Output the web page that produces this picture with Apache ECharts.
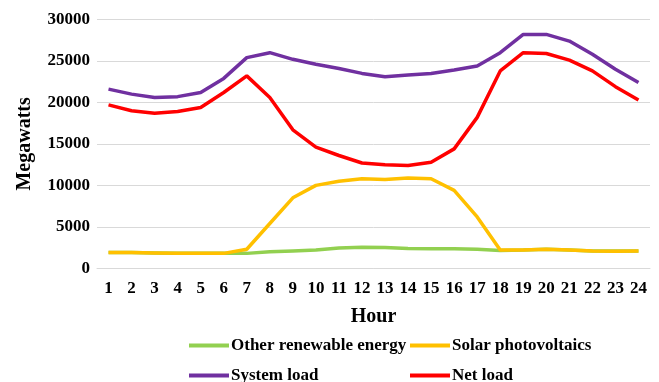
<!DOCTYPE html>
<html>
<head>
<meta charset="utf-8">
<script src="https://cdn.jsdelivr.net/npm/echarts@6/dist/echarts.min.js"></script>
<style>html,body{margin:0;padding:0;background:#fff}#c{width:659px;height:382px}</style>
</head>
<body>
<div id="c"></div>
<script>
const hours = ['1','2','3','4','5','6','7','8','9','10','11','12','13','14','15','16','17','18','19','20','21','22','23','24'];
const otherRenewable = [1900,1900,1850,1800,1800,1800,1800,2000,2100,2200,2450,2550,2500,2400,2350,2350,2300,2150,2200,2300,2200,2100,2100,2100];
const solarPV = [1900,1900,1850,1800,1800,1800,2300,5400,8500,10000,10500,10800,10700,10900,10800,9400,6200,2200,2200,2300,2200,2100,2050,2100];
const systemLoad = [21600,21000,20600,20700,21200,22900,25400,26000,25200,24600,24100,23500,23100,23300,23500,23900,24400,26000,28200,28200,27400,25800,24000,22400];
const netLoad = [19700,19000,18700,18900,19400,21200,23200,20600,16700,14600,13600,12700,12500,12400,12800,14400,18200,23800,26000,25900,25100,23800,21900,20300];
const yTicks = {min:0, max:30000, interval:5000};

const font = 'Liberation Serif';
const chart = echarts.init(document.getElementById('c'));
const mk = (name, data, color) => ({
  name, type:'line', data, symbol:'none', smooth:false,
  lineStyle:{color, width:3.5}, itemStyle:{color}
});
const legendBase = (name, left, top) => ({
  data:[name], left, top, itemWidth:40, itemHeight:4, itemGap:0, padding:0,
  icon:'rect',
  textStyle:{fontFamily:font, fontWeight:'bold', fontSize:17, color:'#000', padding:[0,0,0,-3]}
});
chart.setOption({
  animation:false,
  grid:{left:97, right:9, top:19.5, bottom:113.7},
  xAxis:{
    type:'category', data:hours, boundaryGap:true,
    name:'Hour', nameLocation:'middle', nameGap:39,
    nameTextStyle:{fontFamily:font, fontWeight:'bold', fontSize:20, color:'#000'},
    axisLine:{show:true, lineStyle:{color:'#d9d9d9', width:1}},
    axisTick:{show:false},
    axisLabel:{fontFamily:font, fontWeight:'bold', fontSize:17, color:'#000', margin:12, interval:0}
  },
  yAxis:{
    type:'value', min:yTicks.min, max:yTicks.max, interval:yTicks.interval,
    name:'Megawatts', nameLocation:'middle', nameGap:62,
    nameTextStyle:{fontFamily:font, fontWeight:'bold', fontSize:20, color:'#000'},
    axisLine:{show:false}, axisTick:{show:false},
    axisLabel:{fontFamily:font, fontWeight:'bold', fontSize:17, color:'#000', margin:7,
      formatter:v => String(v)},
    splitLine:{lineStyle:{color:'#d9d9d9', width:1}}
  },
  legend:[
    legendBase('Other renewable energy', 189, 337),
    legendBase('Solar photovoltaics', 410, 337),
    legendBase('System load', 189, 367),
    legendBase('Net load', 410, 367)
  ],
  series:[
    mk('Other renewable energy', otherRenewable, '#92d050'),
    mk('Solar photovoltaics', solarPV, '#ffc000'),
    mk('System load', systemLoad, '#7030a0'),
    mk('Net load', netLoad, '#ff0000')
  ]
});
</script>
</body>
</html>
